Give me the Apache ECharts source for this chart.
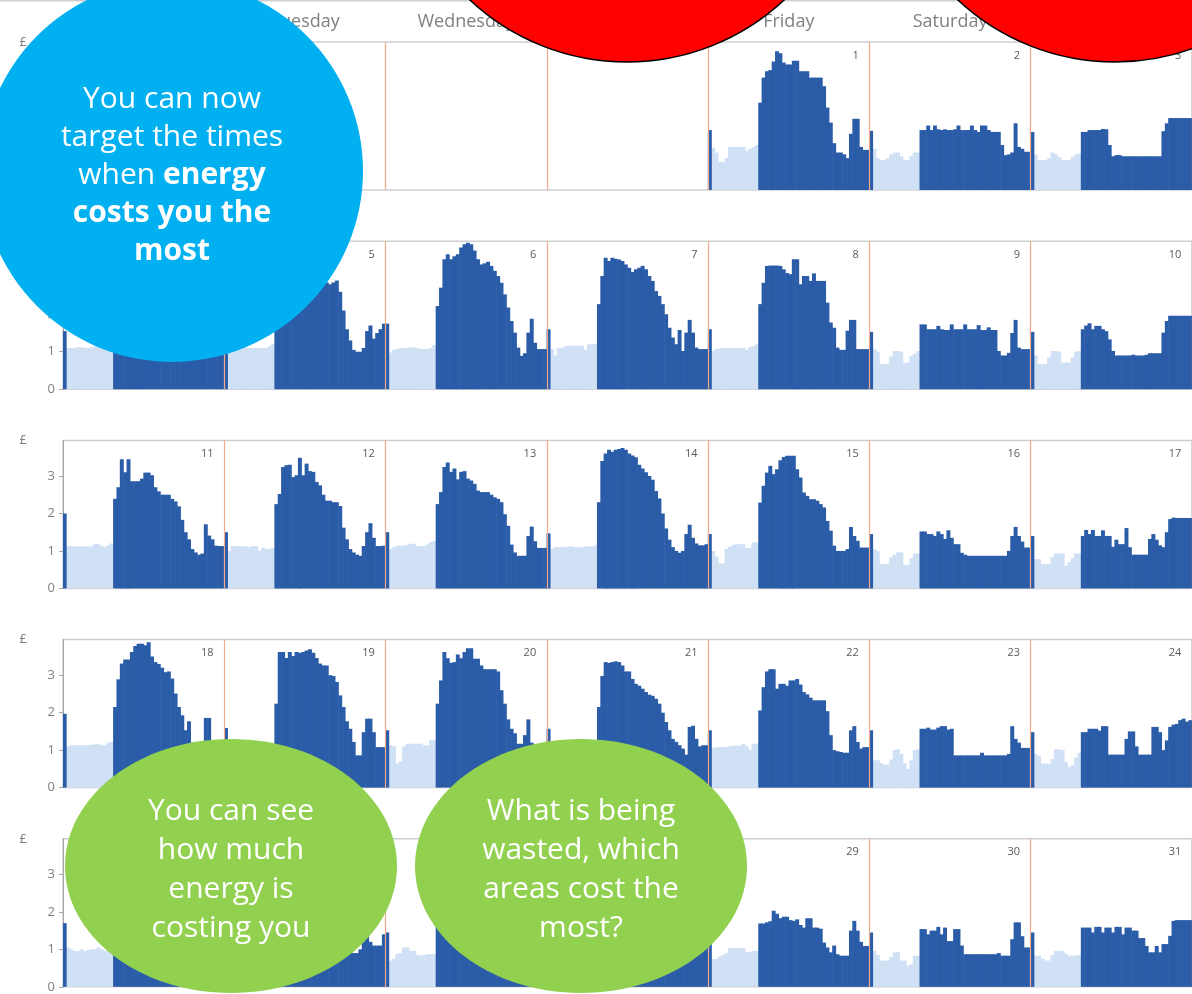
<!DOCTYPE html>
<html>
<head>
<meta charset="utf-8">
<script src="https://cdn.jsdelivr.net/npm/echarts@6/dist/echarts.min.js"></script>
<style>
html,body{margin:0;padding:0;background:#ffffff;}
#chart{width:1192px;height:994px;}
</style>
</head>
<body>
<div id="chart"></div>
<script>
// ---------------- DATA ----------------
const dayNames = ['Monday','Tuesday','Wednesday','Thursday','Friday','Saturday','Sunday'];
const dayNumbers = [
  ['', '', '', '', '1', '2', '3'],
  ['4', '5', '6', '7', '8', '9', '10'],
  ['11', '12', '13', '14', '15', '16', '17'],
  ['18', '19', '20', '21', '22', '23', '24'],
  ['25', '26', '27', '28', '29', '30', '31']
];
const yTicks = [0, 1, 2, 3];
// half-hour slots 1..14 are off-peak (light), others peak (dark)
const offPeakFirstSlot = 1;
const offPeakLastSlot = 14;

// cost (£) per half hour, 48 values per day
const d1 = [1.6, 1.13,1.0,0.75,0.75,0.85,1.15,1.15,1.15,1.15,1.15,1.05,1.1,1.15,1.2,
  2.33,3.0,3.17,3.2,3.43,3.7,3.65,3.4,3.35,3.35, 3.45,3.45,3.17,3.17,3.17,3.0,3.0,3.0,3.0,2.77,
  2.2,1.8,1.25,1.0,1.0,0.95,0.85,1.5,1.9,1.9, 1.15,1.07,1.07];
const d2 = [1.58, 1.1,0.85,0.8,0.8,0.85,0.95,1.0,1.0,0.9,0.8,0.8,0.9,1.0,1.0,
  1.6,1.6,1.72,1.6,1.72,1.62,1.6,1.62,1.6,1.6, 1.62,1.72,1.6,1.6,1.6,1.72,1.6,1.55,1.72,1.72,
  1.6,1.55,1.55,1.55,1.2,0.93,0.95,1.0,1.78,1.15, 1.1,1.02,1.02];
const d3 = [1.55, 0.95,0.8,0.8,0.8,0.85,1.0,0.95,0.88,0.8,0.8,0.8,0.88,0.95,0.97,
  1.55,1.55,1.6,1.6,1.6,1.6,1.63,1.62,1.2,0.9, 0.93,0.93,0.9,0.9,0.9,0.9,0.9,0.9,0.9,0.9,
  0.9,0.9,0.9,0.9,1.57,1.78,1.92,1.92,1.92,1.92, 1.92,1.92,1.92];
const d4 = [1.55, 1.1,1.1,1.1,1.12,1.12,1.1,1.1,1.12,1.15,1.15,1.1,1.1,1.15,1.2,
  2.3,2.8,3.3,3.4,3.35,3.45,3.5,3.4,3.3,3.25, 3.2,3.1,3.0,2.9,2.8,2.7,2.6,2.5,2.4,2.2,
  1.9,1.6,1.3,1.1,1.0,0.95,1.0,1.65,1.5,1.3, 1.15,1.1,1.1];
const d5 = [1.5, 1.05,1.1,1.1,1.1,1.1,1.1,1.1,1.1,1.1,1.1,1.1,1.1,1.15,1.2,
  2.3,2.7,3.2,3.3,3.2,3.3,3.35,3.3,3.2,3.1, 3.0,2.95,2.9,2.9,2.9,2.85,2.8,2.85,2.9,2.6,
  2.1,1.6,1.3,1.05,1.0,1.0,1.1,1.55,1.7,1.35, 1.5,1.6,1.75];
const d6 = [1.75, 0.98,1.05,1.07,1.1,1.1,1.1,1.12,1.12,1.1,1.07,1.07,1.07,1.1,1.18,
  2.22,2.71,3.47,3.6,3.47,3.55,3.6,3.78,3.87,3.91, 3.87,3.7,3.47,3.33,3.36,3.4,3.29,3.16,3.02,2.84,
  2.53,2.18,1.82,1.51,1.11,0.89,0.96,1.51,1.88,1.24, 1.07,1.07,1.07];
const d7 = [1.6, 1.07,0.9,1.1,1.1,1.15,1.16,1.16,1.16,1.16,1.16,1.05,1.2,1.2,1.2,
  2.27,3.02,3.51,3.42,3.51,3.48,3.46,3.42,3.33,3.24, 3.13,3.2,3.24,3.29,3.2,3.02,2.89,2.62,2.49,2.27,
  2.0,1.64,1.38,1.2,1.58,1.02,1.51,1.85,1.51,1.11, 1.07,1.07,1.07];
const d8 = [1.6, 1.03,1.08,1.08,1.1,1.1,1.1,1.1,1.1,1.1,1.1,1.05,1.12,1.15,1.2,
  2.27,2.84,3.29,3.3,3.3,3.3,3.29,3.2,3.1,3.07, 3.47,3.47,2.8,3.02,3.02,2.89,3.09,2.89,2.89,2.89,
  2.31,1.78,1.64,1.11,1.05,1.05,1.56,1.85,1.85,1.07, 1.07,1.07,1.07];
const d9 = [1.53, 1.07,1.0,0.67,0.67,0.67,0.87,1.02,1.02,1.0,0.71,0.71,0.89,0.95,1.02,
  1.73,1.73,1.6,1.6,1.6,1.69,1.6,1.58,1.58,1.73, 1.6,1.6,1.6,1.73,1.6,1.6,1.6,1.71,1.58,1.58,
  1.65,1.58,1.58,1.02,0.9,0.9,0.97,1.5,1.85,1.11, 1.07,1.07,1.07];
const d10 = [1.53, 0.9,0.67,0.67,0.67,0.85,1.02,1.02,1.0,0.71,0.71,0.71,0.85,1.0,1.02,
  1.6,1.7,1.76,1.6,1.69,1.69,1.6,1.55,1.33,1.02, 0.9,0.9,0.9,0.9,0.9,0.92,0.9,0.9,0.9,0.92,
  0.96,0.96,0.96,0.96,1.51,1.82,1.96,1.96,1.96,1.96, 1.96,1.96,1.96];
const d11 = [2.0, 1.13,1.13,1.12,1.12,1.12,1.12,1.12,1.12,1.18,1.18,1.13,1.1,1.15,1.2,
  2.39,2.7,3.45,3.1,3.45,2.86,2.86,2.86,2.93,3.09, 3.09,3.02,2.7,2.59,2.5,2.5,2.5,2.39,2.32,2.19,
  1.83,1.5,1.31,1.05,0.96,0.9,0.93,1.71,1.41,1.31, 1.14,1.13,1.13];
const d12 = [1.5, 1.0,1.13,1.13,1.13,1.13,1.12,1.1,1.13,1.13,1.0,1.08,1.05,1.05,1.08,
  2.25,2.52,3.24,3.29,3.3,2.97,3.02,3.49,3.02,3.33, 3.13,3.11,2.84,2.75,2.5,2.34,2.34,2.3,2.3,2.2,
  1.62,1.31,1.05,0.96,0.9,0.87,1.13,1.5,1.74,1.35, 1.13,1.13,1.14];
const d13 = [1.5, 1.05,1.1,1.14,1.14,1.14,1.16,1.19,1.19,1.13,1.13,1.13,1.17,1.24,1.26,
  2.25,2.57,3.24,3.36,3.11,3.2,2.91,3.11,3.13,2.93, 2.88,2.79,2.61,2.57,2.57,2.57,2.5,2.43,2.39,2.3,
  1.98,1.67,1.17,0.96,0.87,0.87,0.87,1.4,1.65,1.26, 1.08,1.08,1.08];
const d14 = [1.47, 1.05,1.1,1.1,1.1,1.1,1.12,1.12,1.1,1.1,1.1,1.12,1.12,1.12,1.15,
  2.3,3.4,3.6,3.7,3.65,3.7,3.72,3.75,3.7,3.6, 3.55,3.5,3.3,3.2,3.1,3.0,2.9,2.6,2.4,2.0,
  1.6,1.3,1.1,1.0,0.95,1.0,1.45,1.7,1.35,1.2, 1.15,1.15,1.18];
const d15 = [1.45, 1.0,0.85,0.67,0.67,1.05,1.11,1.16,1.18,1.18,1.18,1.08,1.08,1.23,1.23,
  2.29,2.74,3.09,3.27,3.05,3.18,3.42,3.51,3.54,3.54, 3.54,3.18,2.96,2.56,2.47,2.38,2.38,2.34,2.25,2.16,
  1.8,1.54,1.14,1.0,1.0,1.0,1.05,1.64,1.4,1.27, 1.09,1.09,1.09];
const d16 = [1.45, 1.05,1.0,0.65,0.65,0.65,0.83,0.9,0.96,0.96,0.63,0.63,0.81,0.93,0.93,
  1.52,1.52,1.45,1.45,1.4,1.52,1.45,1.32,1.55,1.35, 1.18,1.18,0.95,0.9,0.87,0.87,0.87,0.87,0.87,0.87,
  0.87,0.87,0.87,0.87,0.87,0.87,1.0,1.4,1.64,1.4, 1.25,1.09,1.09];
const d17 = [1.4, 0.78,0.78,0.65,0.65,0.65,0.83,0.93,0.93,0.93,0.6,0.7,0.81,0.93,0.93,
  1.4,1.56,1.45,1.56,1.4,1.4,1.55,1.4,1.4,1.11, 1.3,1.18,1.18,1.61,1.1,0.9,0.9,0.9,0.9,0.9,
  1.32,1.45,1.3,1.15,1.1,1.5,1.85,1.89,1.88,1.88, 1.88,1.88,1.88];
const d18 = [1.97, 1.1,1.13,1.13,1.13,1.13,1.13,1.13,1.15,1.15,1.17,1.13,1.13,1.2,1.22,
  2.15,2.89,3.31,3.42,3.42,3.62,3.78,3.84,3.84,3.8, 3.88,3.5,3.35,3.3,3.2,3.08,3.1,2.91,2.51,2.15,
  1.93,1.53,1.77,1.2,1.0,0.95,1.0,1.86,1.86,1.2, 1.1,1.1,1.1];
const d19 = [1.59, 1.1,1.1,1.1,1.1,1.12,1.12,1.12,1.12,1.12,1.1,1.1,1.1,1.15,1.2,
  2.24,3.62,3.62,3.46,3.62,3.51,3.62,3.6,3.62,3.66, 3.69,3.6,3.46,3.31,3.26,3.26,3.0,2.98,2.82,2.46,
  2.15,1.77,1.57,1.22,0.86,0.86,1.48,1.84,1.84,1.48, 1.08,1.08,1.08];
const d20 = [1.53, 1.13,1.1,0.64,0.7,1.1,1.17,1.17,1.17,1.17,1.17,1.13,1.13,1.26,1.26,
  2.24,2.86,3.62,3.45,3.33,3.35,3.55,3.45,3.62,3.72, 3.72,3.44,3.44,3.26,3.16,3.16,3.16,3.16,3.1,2.6,
  2.24,1.82,1.57,1.45,1.17,1.17,1.4,1.82,1.2,1.1, 1.1,1.1,1.1];
const d21 = [1.57, 1.1,1.12,1.1,1.1,1.12,1.12,1.1,1.1,1.12,1.12,1.1,1.1,1.15,1.2,
  2.15,2.98,3.35,3.33,3.35,3.37,3.35,3.26,3.1,3.1, 2.9,2.77,2.72,2.64,2.55,2.48,2.45,2.37,2.24,2.0,
  1.75,1.53,1.3,1.22,1.13,1.04,0.88,1.62,1.65,1.3, 1.1,1.13,1.13];
const d22 = [1.53, 1.06,1.08,1.08,1.08,1.08,1.1,1.12,1.12,1.12,1.17,1.1,1.0,1.17,1.17,
  2.06,2.68,3.1,3.16,3.16,2.64,2.77,2.77,2.72,2.86, 2.86,2.9,2.75,2.55,2.49,2.4,2.33,2.33,2.33,2.33,
  2.04,1.4,1.0,0.97,0.95,0.93,0.93,1.53,1.64,1.22, 1.04,1.08,1.08];
const d23 = [1.53, 0.73,0.73,0.65,0.61,0.61,0.75,1.0,1.02,0.9,0.65,0.5,0.73,1.0,1.02,
  1.57,1.57,1.6,1.55,1.55,1.6,1.64,1.64,1.55,1.57, 0.86,0.86,0.86,0.86,0.86,0.86,0.86,0.86,0.93,0.86,
  0.86,0.86,0.86,0.86,0.86,0.86,0.9,1.64,1.3,1.2, 1.06,1.06,1.06];
const d24 = [1.48, 0.9,0.85,0.64,0.64,0.64,0.76,1.02,1.02,1.0,0.68,0.55,0.6,0.8,0.93,
  1.48,1.48,1.57,1.57,1.57,1.52,1.64,1.64,0.88,0.88, 0.88,0.88,0.88,1.3,1.5,1.5,1.1,0.88,0.88,0.88,
  0.88,1.62,1.62,1.48,1.0,1.26,1.62,1.68,1.7,1.8, 1.84,1.76,1.8];
const d25 = [1.7, 1.05,1.0,0.95,0.95,1.0,0.95,0.98,1.0,1.0,1.05,1.0,0.95,1.0,1.05,
  2.1,2.6,2.9,3.0,3.1,3.05,3.0,3.1,3.0,2.9, 2.85,2.8,2.7,2.6,2.5,2.4,2.3,2.2,2.0,1.8,
  1.6,1.35,1.15,1.0,0.95,0.95,1.0,1.5,1.6,1.3, 1.1,1.1,1.1];
const d26 = [1.45, 0.95,0.95,0.95,1.0,1.0,1.0,1.0,1.0,0.95,0.95,1.0,1.0,1.05,1.05,
  2.1,2.7,3.0,3.1,3.2,3.15,3.2,3.1,3.0,2.95, 2.9,2.8,2.7,2.6,2.5,2.4,2.3,2.2,2.0,1.7,
  1.3,1.1,0.95,0.9,0.9,1.0,1.45,1.6,1.2,1.1, 1.1,1.1,1.4];
const d27 = [1.45, 0.7,0.75,0.87,0.9,1.05,1.05,0.96,0.96,0.85,0.83,0.85,0.87,0.87,0.87,
  2.0,2.5,2.9,3.0,3.05,3.1,3.0,2.95,2.9,2.85, 2.8,2.75,2.7,2.6,2.5,2.4,2.3,2.2,2.0,1.8,
  1.5,1.25,1.05,0.95,0.9,0.95,1.4,1.6,1.25,1.1, 1.1,1.1,1.1];
const d28 = [1.5, 1.0,0.95,0.9,0.95,1.0,1.0,1.0,1.0,0.95,0.95,1.0,1.0,1.05,1.05,
  2.0,2.5,2.8,2.9,2.95,3.0,2.95,2.9,2.85,2.8, 2.7,2.6,2.5,2.45,2.4,2.3,2.2,2.1,1.9,1.7,
  1.4,1.2,1.0,0.95,0.9,0.95,1.35,1.55,1.2,1.1, 1.05,1.05,1.05];
const d29 = [1.45, 0.74,0.74,0.8,0.85,0.9,1.03,1.03,1.03,1.03,1.03,0.93,0.93,0.96,0.96,
  1.69,1.69,1.72,1.75,2.03,1.95,1.83,1.87,1.87,1.78, 1.76,1.8,1.65,1.58,1.83,1.83,1.58,1.58,1.55,1.18,
  1.05,0.92,1.1,0.87,0.83,0.83,0.83,1.5,1.76,1.5, 1.2,1.09,1.09];
const d30 = [1.45, 0.96,0.85,0.7,0.7,0.7,0.8,0.92,0.92,0.7,0.7,0.56,0.6,0.83,0.83,
  1.54,1.54,1.4,1.5,1.5,1.6,1.4,1.58,1.22,1.22, 1.54,1.54,1.1,0.87,0.87,0.87,0.87,0.87,0.87,0.87,
  0.87,0.87,0.87,0.9,0.83,0.83,0.83,1.27,1.72,1.72, 1.35,1.05,1.05];
const d31 = [1.45, 0.83,0.83,0.75,0.7,0.7,0.85,0.95,0.96,0.96,0.88,0.83,0.83,0.83,0.85,
  1.58,1.58,1.58,1.45,1.6,1.6,1.45,1.58,1.58,1.45, 1.6,1.6,1.4,1.58,1.58,1.5,1.5,1.3,1.3,1.09,
  0.92,0.92,1.09,0.92,1.14,1.14,1.36,1.76,1.78,1.78, 1.78,1.78,1.78];

const week1 = [null, null, null, null, d1, d2, d3];
const week2 = [d4, d5, d6, d7, d8, d9, d10];
const week3 = [d11, d12, d13, d14, d15, d16, d17];
const week4 = [d18, d19, d20, d21, d22, d23, d24];
const week5 = [d25, d26, d27, d28, d29, d30, d31];
const weeks = [week1, week2, week3, week4, week5];

// ---------------- CHART ----------------
const SLOTS = 48;
const slotCats = [];
for (let i = 0; i < 7 * SLOTS; i++) slotCats.push(String(i));

const darkBlue = '#2a5ca8';
const lightBlue = '#d0e0f5';
const labelFont = 'Open Sans, Noto Sans, sans-serif';

const chart = echarts.init(document.getElementById('chart'), null, {renderer: 'canvas'});

const grids = [], xAxes = [], yAxes = [], series = [];
weeks.forEach((week, r) => {
  grids.push({
    left: 63, right: -6, top: 42 + r * 199.2, height: 148,
    show: true, borderColor: '#cfcfcf', borderWidth: 1.5, backgroundColor: 'transparent'
  });
  // main slot axis, day-boundary lines
  xAxes.push({
    gridIndex: r, type: 'category', data: slotCats, boundaryGap: true, z: 5,
    axisLine: {show: false}, axisTick: {show: false}, axisLabel: {show: false},
    splitLine: {
      show: true,
      interval: (i) => i > 0 && i % SLOTS === 0,
      lineStyle: {color: '#f3a98a', width: 1.2}
    }
  });
  // day number labels at the top right of each day
  xAxes.push({
    gridIndex: r, type: 'category', data: slotCats, position: 'top', boundaryGap: true,
    axisLine: {show: false}, axisTick: {show: false}, splitLine: {show: false},
    axisLabel: {
      show: true, inside: true, margin: 8,
      interval: (i) => i % SLOTS === SLOTS - 1,
      formatter: (v, i) => dayNumbers[r][Math.floor(i / SLOTS)],
      align: 'right', padding: [0, 9, 0, 0],
      color: '#595959', fontSize: 11, fontFamily: labelFont
    }
  });
  yAxes.push({
    gridIndex: r, type: 'value', min: 0, max: 3.95, interval: 1,
    name: '£', nameLocation: 'end', nameGap: 0,
    nameTextStyle: {color: '#7f7f7f', fontSize: 13, align: 'right', verticalAlign: 'middle',
      padding: [0, 36, 0, 0], fontFamily: labelFont},
    axisLine: {show: true, lineStyle: {color: '#a6a6a6', width: 1}},
    axisTick: {show: true, length: 4, lineStyle: {color: '#a6a6a6'}},
    axisLabel: {color: '#7f7f7f', fontSize: 13, margin: 8, showMaxLabel: false,
      fontFamily: labelFont, formatter: (v) => yTicks.includes(v) ? String(v) : ''},
    splitLine: {show: false}
  });
  // split each week into peak and off-peak bars
  const peak = [], offPeak = [];
  week.forEach(day => {
    for (let s = 0; s < SLOTS; s++) {
      const v = day ? day[s] : null;
      const isOff = s >= offPeakFirstSlot && s <= offPeakLastSlot;
      peak.push(isOff ? null : v);
      offPeak.push(isOff ? v : null);
    }
  });
  series.push({
    type: 'bar', name: 'Off-peak', xAxisIndex: 2 * r, yAxisIndex: r, data: offPeak,
    barWidth: '118%', barGap: '-100%', silent: true, animation: false,
    itemStyle: {color: lightBlue}
  });
  series.push({
    type: 'bar', name: 'Peak', xAxisIndex: 2 * r, yAxisIndex: r, data: peak,
    barWidth: '118%', barGap: '-100%', silent: true, animation: false,
    itemStyle: {color: darkBlue}
  });
});

// header of weekday names above the first week
xAxes.push({
  gridIndex: 0, type: 'category', data: dayNames, position: 'top', boundaryGap: true,
  axisLine: {show: false}, axisTick: {show: false}, splitLine: {show: false},
  axisLabel: {show: true, interval: 0, margin: 11, color: '#808080', fontSize: 18, fontFamily: labelFont}
});

const calloutFont = 'Open Sans, Noto Sans, sans-serif';
const graphic = [
  {type: 'rect', shape: {x: 0, y: 0, width: 1192, height: 1.5}, style: {fill: '#d0d0d0'}, z: 1, silent: true},
  // blue callout
  {type: 'circle', shape: {cx: 172, cy: 171, r: 191}, style: {fill: '#00b0f0'}, z: 100, silent: true},
  {type: 'text', x: 172, y: 175, z: 101, silent: true, style: {
    text: 'You can now\ntarget the times\nwhen {b|energy}\n{b|costs you the}\n{b|most}',
    fill: '#ffffff', font: '30px ' + calloutFont, align: 'center', verticalAlign: 'middle',
    lineHeight: 38,
    rich: {b: {fontWeight: 'bold', fontSize: 30, fill: '#ffffff', fontFamily: calloutFont, lineHeight: 38}}
  }},
  // red circles
  {type: 'circle', shape: {cx: 627, cy: -168, r: 230}, style: {fill: '#ff0000', stroke: '#000000', lineWidth: 1.5}, z: 100, silent: true},
  {type: 'circle', shape: {cx: 1115, cy: -168, r: 230}, style: {fill: '#ff0000', stroke: '#000000', lineWidth: 1.5}, z: 100, silent: true},
  // green callouts
  {type: 'ellipse', shape: {cx: 231, cy: 866, rx: 166, ry: 127}, style: {fill: '#92d050'}, z: 100, silent: true},
  {type: 'text', x: 231, y: 870, z: 101, silent: true, style: {
    text: 'You can see\nhow much\nenergy is\ncosting you',
    fill: '#ffffff', font: '30px ' + calloutFont, align: 'center', verticalAlign: 'middle', lineHeight: 38.7
  }},
  {type: 'ellipse', shape: {cx: 581, cy: 866, rx: 166, ry: 127}, style: {fill: '#92d050'}, z: 100, silent: true},
  {type: 'text', x: 581, y: 870, z: 101, silent: true, style: {
    text: 'What is being\nwasted, which\nareas cost the\nmost?',
    fill: '#ffffff', font: '30px ' + calloutFont, align: 'center', verticalAlign: 'middle', lineHeight: 38.7
  }}
];

chart.setOption({
  animation: false,
  backgroundColor: '#ffffff',
  grid: grids,
  xAxis: xAxes,
  yAxis: yAxes,
  series: series,
  graphic: graphic
});
</script>
</body>
</html>
